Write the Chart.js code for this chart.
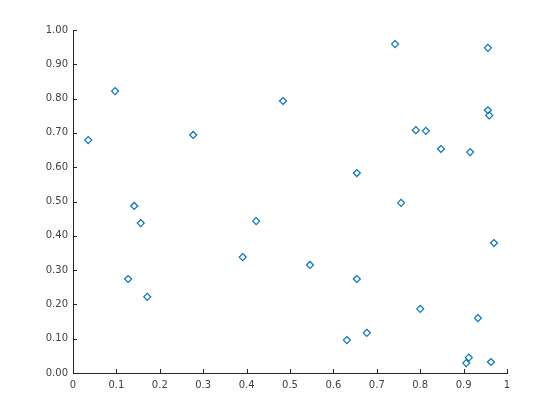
<!DOCTYPE html>
<html>
<head>
<meta charset="utf-8">
<script src="https://cdn.jsdelivr.net/npm/chart.js@4/dist/chart.umd.min.js"></script>
<style>
  html, body { margin: 0; padding: 0; background: #fff; }
  canvas { display: block; }
</style>
</head>
<body>
<canvas id="chart" width="560" height="420"></canvas>
<script>
// values
const xValues = [0.035, 0.097, 0.141, 0.156, 0.127, 0.171, 0.277, 0.391, 0.422, 0.484,
                 0.546, 0.654, 0.654, 0.631, 0.677, 0.742, 0.756, 0.790, 0.813, 0.848,
                 0.800, 0.915, 0.956, 0.956, 0.959, 0.970, 0.933, 0.912, 0.906, 0.963];
const yValues = [0.679, 0.822, 0.487, 0.437, 0.274, 0.222, 0.694, 0.338, 0.443, 0.793,
                 0.315, 0.583, 0.274, 0.096, 0.117, 0.959, 0.496, 0.708, 0.706, 0.653,
                 0.187, 0.644, 0.948, 0.766, 0.751, 0.379, 0.160, 0.045, 0.029, 0.032];

const xTicks = [0, 0.1, 0.2, 0.3, 0.4, 0.5, 0.6, 0.7, 0.8, 0.9, 1];
const xTickLabels = ['0', '0.1', '0.2', '0.3', '0.4', '0.5', '0.6', '0.7', '0.8', '0.9', '1'];
const yTicks = [0, 0.1, 0.2, 0.3, 0.4, 0.5, 0.6, 0.7, 0.8, 0.9, 1];
const yTickLabels = ['0.00', '0.10', '0.20', '0.30', '0.40', '0.50', '0.60', '0.70', '0.80', '0.90', '1.00'];

const axisColor = '#262626';
const labelColor = '#404040';
const markerColor = '#0072BD';

const points = xValues.map((x, i) => ({ x, y: yValues[i] }));

// MATLAB style: tick marks point into the plot
const inwardTicks = {
  id: 'inwardTicks',
  afterDraw(chart) {
    const { ctx, chartArea, scales } = chart;
    const len = 4;
    ctx.save();
    ctx.strokeStyle = axisColor;
    ctx.lineWidth = 1;
    ctx.beginPath();
    xTicks.forEach(v => {
      const px = Math.round(scales.x.getPixelForValue(v)) + 0.5;
      ctx.moveTo(px, chartArea.bottom);
      ctx.lineTo(px, chartArea.bottom - len);
    });
    yTicks.forEach(v => {
      const py = Math.round(scales.y.getPixelForValue(v)) + 0.5;
      ctx.moveTo(chartArea.left, py);
      ctx.lineTo(chartArea.left + len, py);
    });
    ctx.stroke();
    ctx.restore();
  }
};

new Chart(document.getElementById('chart'), {
  type: 'scatter',
  data: {
    datasets: [{
      data: points,
      pointStyle: 'rectRot',
      pointRadius: 3.5,
      pointHoverRadius: 3.5,
      borderColor: markerColor,
      backgroundColor: 'rgba(0,0,0,0)',
      borderWidth: 1.2
    }]
  },
  options: {
    responsive: false,
    animation: false,
    events: [],
    layout: { padding: { left: 0, top: 30, right: 53, bottom: 0 } },
    plugins: {
      legend: { display: false },
      tooltip: { enabled: false }
    },
    scales: {
      x: {
        type: 'linear',
        min: 0,
        max: 1,
        afterBuildTicks: s => { s.ticks = xTicks.map(v => ({ value: v })); },
        afterFit: s => { s.height = 47; },
        grid: { display: true, drawOnChartArea: false, drawTicks: false },
        border: { display: true, color: axisColor, width: 1 },
        ticks: {
          padding: 6,
          color: labelColor,
          maxRotation: 0,
          autoSkip: false,
          font: { family: 'DejaVu Sans', size: 10 },
          callback: (v, i) => xTickLabels[i]
        }
      },
      y: {
        type: 'linear',
        min: 0,
        max: 1,
        afterBuildTicks: s => { s.ticks = yTicks.map(v => ({ value: v })); },
        afterFit: s => { s.width = 73; },
        grid: { display: true, drawOnChartArea: false, drawTicks: false },
        border: { display: true, color: axisColor, width: 1 },
        ticks: {
          padding: 5,
          color: labelColor,
          autoSkip: false,
          font: { family: 'DejaVu Sans', size: 10 },
          callback: (v, i) => yTickLabels[i]
        }
      }
    }
  },
  plugins: [inwardTicks]
});
</script>
</body>
</html>
